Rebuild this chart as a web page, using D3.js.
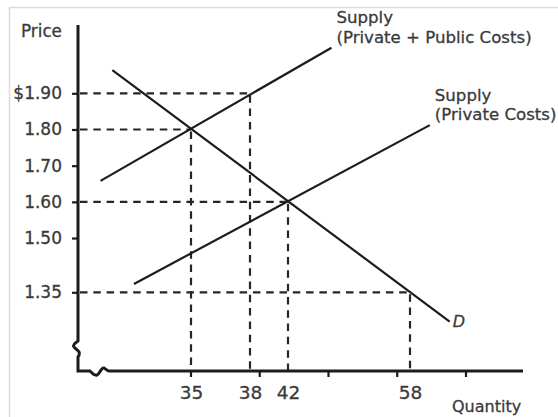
<!DOCTYPE html>
<html>
<head>
<meta charset="utf-8">
<script src="https://cdn.jsdelivr.net/npm/d3@7"></script>
<style>
    body { margin: 0; background: #fff; }
    svg { display: block; }
    text { font-family: "DejaVu Sans", Verdana, sans-serif; fill: #3a3a3a; stroke: #3a3a3a; stroke-width: 0.3px; }
</style>
</head>
<body>
<div id="chart-area"></div>
<script>
/*
*    supply / demand with external cost
*/

var w = 558;
var h = 417;

// price ticks on the vertical axis
var priceTicks = [1.90, 1.80, 1.70, 1.60, 1.50, 1.35];
var priceLabels = ["$1.90", "1.80", "1.70", "1.60", "1.50", "1.35"];

// quantity labels on the horizontal axis
var quantityTicks = [35, 38, 42, 58];

// dashed guides: quantity / price pairs
var guides = [
    { q: 38, p: 1.90 },
    { q: 35, p: 1.80 },
    { q: 42, p: 1.60 },
    { q: 58, p: 1.35 }
];

// curve end points (quantity, price)
var demand = [{ q: 31.0, p: 1.964 }, { q: 63.2, p: 1.269 }];
var supplySocial = [{ q: 30.4, p: 1.658 }, { q: 47.7, p: 2.026 }];
var supplyPrivate = [{ q: 32.1, p: 1.373 }, { q: 60.6, p: 1.812 }];

var supplySocialLabel = ["Supply", "(Private + Public Costs)"];
var supplyPrivateLabel = ["Supply", "(Private Costs)"];

var axisX = 78;      // vertical axis position
var axisY = 371;     // horizontal axis position
var axisTop = 25;
var axisRight = 523;
var ink = "#1c1c1c";

var svg = d3.select("#chart-area")
    .append("svg")
        .attr("width", w)
        .attr("height", h);

// light frame of the scanned figure
svg.append("line")
    .attr("x1", 9).attr("x2", w)
    .attr("y1", 7.5).attr("y2", 7.5)
    .attr("stroke", "#dcdcdc").attr("stroke-width", 1.5);
svg.append("line")
    .attr("x1", 9.5).attr("x2", 9.5)
    .attr("y1", 7).attr("y2", h)
    .attr("stroke", "#dcdcdc").attr("stroke-width", 1.5);

// the quantity axis is not to scale, so piecewise
var x = d3.scaleLinear()
    .domain([35, 38, 42, 58])
    .range([191, 250, 288, 410]);

var y = d3.scaleLinear()
    .domain([1.35, 1.90])
    .range([292.3, 93.3]);

// evenly spaced unlabeled tick marks along quantity axis
var tickSlot = d3.scaleLinear()
    .domain([0, 4])
    .range([191, 466]);

// dashed guides
var g = svg.append("g");

g.selectAll("line.h")
    .data(guides)
    .enter()
    .append("line")
    .attr("class", "h")
    .attr("x1", axisX + 2)
    .attr("x2", function(d){ return x(d.q); })
    .attr("y1", function(d){ return y(d.p); })
    .attr("y2", function(d){ return y(d.p); })
    .attr("stroke", "#262626")
    .attr("stroke-width", 2.2)
    .attr("stroke-dasharray", "7.5,5.8");

g.selectAll("line.v")
    .data(guides)
    .enter()
    .append("line")
    .attr("class", "v")
    .attr("x1", function(d){ return x(d.q); })
    .attr("x2", function(d){ return x(d.q); })
    .attr("y1", function(d){ return y(d.p) + 2; })
    .attr("y2", axisY)
    .attr("stroke", "#262626")
    .attr("stroke-width", 2.2)
    .attr("stroke-dasharray", "7.5,5.8");

// curves
var line = d3.line()
    .x(function(d){ return x(d.q); })
    .y(function(d){ return y(d.p); });

svg.selectAll("path.curve")
    .data([demand, supplySocial, supplyPrivate])
    .enter()
    .append("path")
    .attr("class", "curve")
    .attr("d", line)
    .attr("fill", "none")
    .attr("stroke", ink)
    .attr("stroke-width", 2.2);

// y axis ticks + labels
var yAxis = d3.axisLeft(y)
    .tickValues(priceTicks)
    .tickSize(6)
    .tickPadding(10)
    .tickFormat(function(d, i){ return priceLabels[i]; });

var yg = svg.append("g")
    .attr("transform", "translate(" + axisX + ",0)")
    .call(yAxis);
yg.select(".domain").remove();
yg.selectAll(".tick line").attr("stroke", ink).attr("stroke-width", 2.2);
yg.selectAll(".tick text")
    .attr("font-size", 17)
    .attr("font-family", null)
    .attr("fill", null);

// x axis labels
var xAxis = d3.axisBottom(x)
    .tickValues(quantityTicks)
    .tickSize(0)
    .tickPadding(15);

var xg = svg.append("g")
    .attr("transform", "translate(0," + axisY + ")")
    .call(xAxis);
xg.select(".domain").remove();
xg.selectAll(".tick text")
    .attr("font-size", 18.5)
    .attr("font-family", null)
    .attr("fill", null);

// x tick marks
svg.selectAll("line.xt")
    .data(d3.range(5))
    .enter()
    .append("line")
    .attr("class", "xt")
    .attr("x1", function(d){ return tickSlot(d); })
    .attr("x2", function(d){ return tickSlot(d); })
    .attr("y1", axisY)
    .attr("y2", axisY + 6)
    .attr("stroke", ink)
    .attr("stroke-width", 2.2);

// axes with break marks
var axisPath = "M" + axisX + "," + axisTop +
    " V341" +
    " C" + (axisX - 2) + ",343 " + (axisX - 6) + ",344 " + (axisX - 4) + ",347" +
    " C" + (axisX - 2) + ",350 " + (axisX + 4) + ",351 " + (axisX) + ",357" +
    " V" + axisY +
    " H90" +
    " C92,373 94,376 97,375" +
    " C100,374 101,367 104,368" +
    " C106,369 107,371 109," + axisY +
    " H" + axisRight;

svg.append("path")
    .attr("d", axisPath)
    .attr("fill", "none")
    .attr("stroke", ink)
    .attr("stroke-width", 3)
    .attr("stroke-linejoin", "miter");

// axis titles
svg.append("text")
    .attr("x", 21)
    .attr("y", 37)
    .attr("font-size", 16.8)
    .text("Price");

svg.append("text")
    .attr("x", 452)
    .attr("y", 412)
    .attr("font-size", 16)
    .text("Quantity");

// curve labels
function curveLabel(lines, end){
    var t = svg.append("text")
        .attr("x", x(end.q) + 5)
        .attr("y", y(end.p) - 24.5)
        .attr("font-size", 16.6);
    t.selectAll("tspan")
        .data(lines)
        .enter()
        .append("tspan")
        .attr("x", x(end.q) + 5)
        .attr("dy", function(d, i){ return i === 0 ? 0 : 19.6; })
        .text(function(d){ return d; });
}
curveLabel(supplySocialLabel, supplySocial[1]);
curveLabel(supplyPrivateLabel, supplyPrivate[1]);

svg.append("text")
    .attr("x", x(demand[1].q) + 3)
    .attr("y", y(demand[1].p) + 5)
    .attr("font-size", 16)
    .attr("font-style", "italic")
    .text("D");

</script>
</body>
</html>
